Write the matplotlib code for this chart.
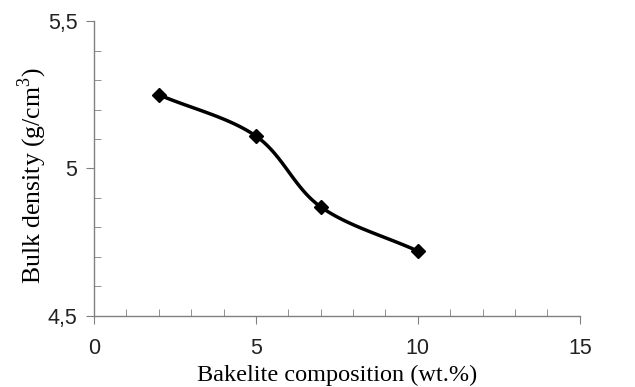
import matplotlib
matplotlib.use("Agg")
import matplotlib.pyplot as plt
import numpy as np
from matplotlib.ticker import MultipleLocator, FuncFormatter

plt.rcParams["mathtext.fontset"] = "custom"
plt.rcParams["mathtext.rm"] = "Liberation Serif"

# data
bakelite = [2, 5, 7, 10]
density = [5.25, 5.11, 4.87, 4.72]


def smooth(xs, ys, n=40):
    # Catmull-Rom style smoothing, similar to spreadsheet "smoothed line"
    xs = np.asarray(xs, float)
    ys = np.asarray(ys, float)
    px = np.concatenate([[2 * xs[0] - xs[1]], xs, [2 * xs[-1] - xs[-2]]])
    py = np.concatenate([[2 * ys[0] - ys[1]], ys, [2 * ys[-1] - ys[-2]]])
    ox, oy = [], []
    t = np.linspace(0, 1, n)
    for i in range(1, len(px) - 2):
        p0, p1, p2, p3 = [np.array([px[j], py[j]]) for j in range(i - 1, i + 3)]
        c1 = p1 + (p2 - p0) / 6.0
        c2 = p2 - (p3 - p1) / 6.0
        b = ((1 - t) ** 3)[:, None] * p1 + (3 * (1 - t) ** 2 * t)[:, None] * c1 \
            + (3 * (1 - t) * t ** 2)[:, None] * c2 + (t ** 3)[:, None] * p2
        ox.extend(b[:, 0])
        oy.extend(b[:, 1])
    return ox, oy


fig = plt.figure(figsize=(6.35, 3.87), dpi=100)
ax = fig.add_axes([0.148, 0.1835, 0.765, 0.7622])

sx, sy = smooth(bakelite, density)
ax.plot(sx, sy, color="black", lw=2.5)
ax.plot(bakelite, density, ls="none", marker="D", ms=7, color="black")

ax.set_xlim(0, 15)
ax.set_ylim(4.5, 5.5)
ax.xaxis.set_major_locator(MultipleLocator(5))
ax.xaxis.set_minor_locator(MultipleLocator(1))
ax.yaxis.set_major_locator(MultipleLocator(0.5))
ax.yaxis.set_minor_locator(MultipleLocator(0.1))
ax.yaxis.set_major_formatter(FuncFormatter(lambda v, p: ("%g" % v).replace(".", ",")))

for s in ["top", "right"]:
    ax.spines[s].set_visible(False)
for s in ["left", "bottom"]:
    ax.spines[s].set_color("#808080")
    ax.spines[s].set_linewidth(1)

ax.tick_params(which="major", direction="out", length=6, color="#808080",
               labelsize=15.5, labelcolor="#222222")
ax.tick_params(axis="y", which="major", pad=6)
ax.tick_params(axis="x", which="major", pad=10)
ax.tick_params(which="minor", direction="in", length=5, color="#808080")
for lab in ax.get_xticklabels() + ax.get_yticklabels():
    lab.set_family("Liberation Sans")

ax.set_xlabel("Bakelite composition (wt.%)", fontfamily="Liberation Serif",
              fontsize=17.5, labelpad=4)
ax.set_ylabel("Bulk density (g/cm$^3$)", fontfamily="Liberation Serif",
              fontsize=18.5)
ax.yaxis.set_label_coords(-0.093, 0.475)

fig.savefig("out.png", dpi=100)
